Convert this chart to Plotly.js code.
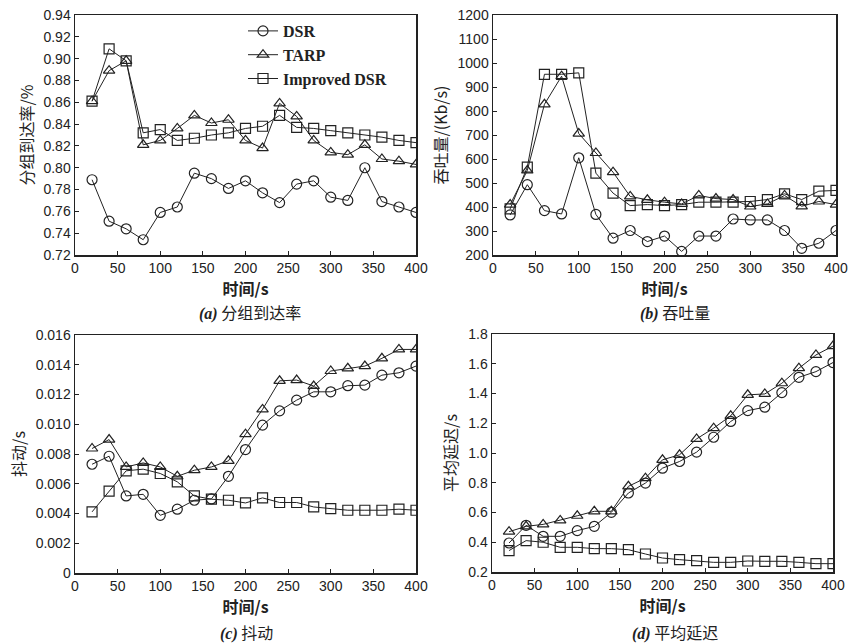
<!DOCTYPE html>
<html>
<head>
<meta charset="utf-8">
<script src="https://cdn.plot.ly/plotly-3.0.1.min.js"></script>
<style>html,body{margin:0;padding:0;background:#fff;}#chart{width:852px;height:643px;}</style>
</head>
<body>
<div id="chart"></div>
<script>
const time = [20,40,60,80,100,120,140,160,180,200,220,240,260,280,300,320,340,360,380,400];
const seriesNames = ["DSR", "TARP", "Improved DSR"];

// (a) 分组到达率
const pdrDSR = [0.789,0.751,0.744,0.734,0.759,0.764,0.795,0.790,0.781,0.788,0.777,0.768,0.785,0.788,0.773,0.770,0.800,0.769,0.764,0.759];
const pdrTARP = [0.861,0.889,0.898,0.821,0.825,0.836,0.848,0.841,0.844,0.825,0.818,0.859,0.847,0.825,0.814,0.812,0.821,0.808,0.806,0.803];
const pdrImp = [0.861,0.909,0.898,0.832,0.835,0.825,0.827,0.830,0.832,0.836,0.838,0.848,0.837,0.836,0.834,0.832,0.830,0.828,0.825,0.823];

// (b) 吞吐量
const thrDSR = [367,493,385,371,605,369,270,302,256,279,215,279,279,350,346,346,302,228,249,302];
const thrTARP = [410,552,828,945,706,625,545,444,430,420,413,448,435,431,402,413,448,403,423,410];
const thrImp = [392,566,953,953,959,541,458,406,410,406,410,420,420,420,423,431,455,431,466,469];

// (c) 抖动
const jitDSR = [0.00731,0.00785,0.00518,0.00529,0.00388,0.00429,0.00489,0.00498,0.0065,0.0083,0.00994,0.0109,0.01162,0.01218,0.01218,0.01259,0.01263,0.0133,0.01346,0.01391];
const jitTARP = [0.00837,0.00897,0.00713,0.0074,0.00713,0.0065,0.00691,0.00713,0.00754,0.00933,0.011,0.01292,0.01297,0.01257,0.01358,0.01376,0.01391,0.01443,0.01503,0.01503];
const jitImp = [0.00411,0.0055,0.00687,0.00698,0.00669,0.00613,0.00518,0.00496,0.00489,0.00471,0.00505,0.00474,0.00474,0.00444,0.00433,0.00422,0.00422,0.00422,0.00429,0.00422];

// (d) 平均延迟
const delDSR = [0.395,0.514,0.44,0.44,0.478,0.507,0.601,0.731,0.798,0.898,0.943,1.006,1.106,1.212,1.285,1.308,1.406,1.509,1.547,1.608];
const delTARP = [0.471,0.507,0.520,0.547,0.578,0.608,0.608,0.776,0.831,0.954,0.988,1.095,1.167,1.25,1.391,1.397,1.469,1.570,1.659,1.719];
const delImp = [0.344,0.411,0.400,0.366,0.366,0.357,0.357,0.350,0.321,0.294,0.283,0.276,0.265,0.265,0.274,0.272,0.272,0.265,0.256,0.256];

const jitTickVals = [0,0.002,0.004,0.006,0.008,0.010,0.012,0.014,0.016];
const jitTickText = ["0","0.002","0.004","0.006","0.008","0.010","0.012","0.014","0.016"];

const symbols = ["circle-open","triangle-up-open","square-open"];
const panels = [
  {xa:"x", ya:"y", data:[pdrDSR,pdrTARP,pdrImp]},
  {xa:"x2", ya:"y2", data:[thrDSR,thrTARP,thrImp]},
  {xa:"x3", ya:"y3", data:[jitDSR,jitTARP,jitImp]},
  {xa:"x4", ya:"y4", data:[delDSR,delTARP,delImp]}
];

const traces = [];
panels.forEach((p, pi) => {
  p.data.forEach((vals, si) => {
    traces.push({
      x: time, y: vals, xaxis: p.xa, yaxis: p.ya,
      type: "scatter", mode: "lines+markers",
      name: seriesNames[si],
      showlegend: pi === 0,
      line: {color: "#222", width: 1},
      marker: {symbol: symbols[si], size: 10, color: "#222", line: {width: 1.2, color: "#222"}}
    });
  });
});

const tickFont = {family: "Liberation Sans, Arial, sans-serif", size: 14, color: "#222"};
const cjkFont = {family: "Noto Sans CJK SC, sans-serif", size: 16, color: "#222"};

function xAxis(domain, anchor) {
  return {
    domain: domain, anchor: anchor, range: [0, 400], dtick: 50, tick0: 0,
    showline: true, mirror: true, linecolor: "#222", linewidth: 1.5,
    ticks: "inside", ticklen: 4, tickcolor: "#222",
    showgrid: false, zeroline: false, tickfont: tickFont,
    title: {text: "<b>时间/s</b>", font: cjkFont, standoff: 0}
  };
}
function yAxis(domain, anchor, range, extra, title) {
  return Object.assign({
    domain: domain, anchor: anchor, range: range,
    showline: true, mirror: true, linecolor: "#222", linewidth: 1.5,
    ticks: "inside", ticklen: 4, tickcolor: "#222",
    showgrid: false, zeroline: false, tickfont: tickFont,
    title: {text: title, font: cjkFont, standoff: 6}
  }, extra);
}

const H = 643, W = 852;
const layout = {
  width: W, height: H,
  margin: {l: 0, r: 0, t: 0, b: 0},
  paper_bgcolor: "#fff", plot_bgcolor: "#fff",
  showlegend: true,
  legend: {
    x: 243/W, y: 1 - 14/H, xanchor: "left", yanchor: "top",
    bgcolor: "rgba(0,0,0,0)", borderwidth: 0,
    font: {family: "Liberation Serif, Times New Roman, serif", size: 16, color: "#222", weight: "bold"},
    tracegroupgap: 0, itemwidth: 30
  },
  xaxis: xAxis([75/W, 416/W], "y"),
  yaxis: yAxis([1-255/H, 1-15/H], "x", [0.72, 0.94], {dtick: 0.02, tick0: 0.72, tickformat: ".2f"}, "分组到达率/%"),
  xaxis2: xAxis([493/W, 836/W], "y2"),
  yaxis2: yAxis([1-255/H, 1-15/H], "x2", [200, 1200], {dtick: 100, tick0: 200}, "吞吐量/(Kb/s)"),
  xaxis3: xAxis([75/W, 416/W], "y3"),
  yaxis3: yAxis([1-573/H, 1-335/H], "x3", [0, 0.016], {tickvals: jitTickVals, ticktext: jitTickText}, "抖动/s"),
  xaxis4: xAxis([492/W, 833/W], "y4"),
  yaxis4: yAxis([1-572/H, 1-334/H], "x4", [0.2, 1.8], {dtick: 0.2, tick0: 0.2, tickformat: ".1f"}, "平均延迟/s"),
  annotations: [
    {text: "<span style='font-family:Liberation Serif'><b><i>(a)</i></b></span> 分组到达率", x: 250/W, y: 1-312/H},
    {text: "<span style='font-family:Liberation Serif'><b><i>(b)</i></b></span> 吞吐量", x: 675/W, y: 1-312/H},
    {text: "<span style='font-family:Liberation Serif'><b><i>(c)</i></b></span> 抖动", x: 246/W, y: 1-632/H},
    {text: "<span style='font-family:Liberation Serif'><b><i>(d)</i></b></span> 平均延迟", x: 675/W, y: 1-632/H}
  ].map(a => Object.assign({xref: "paper", yref: "paper", xanchor: "center", yanchor: "middle", showarrow: false,
    font: {family: "Noto Sans CJK SC, Liberation Serif, serif", size: 16, color: "#222"}}, a))
};

Plotly.newPlot("chart", traces, layout, {staticPlot: true, displayModeBar: false});
</script>
</body>
</html>
